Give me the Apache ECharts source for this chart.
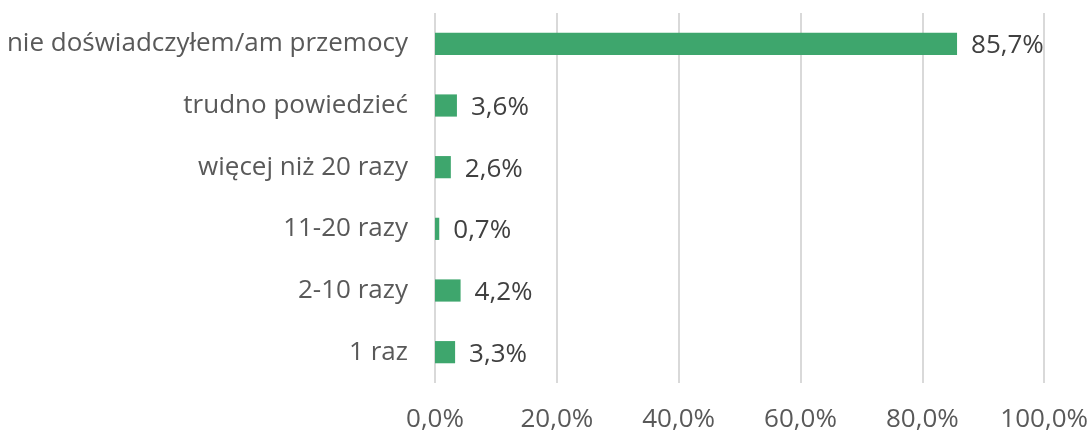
<!DOCTYPE html>
<html>
<head>
<meta charset="utf-8">
<script src="https://cdn.jsdelivr.net/npm/echarts@6/dist/echarts.min.js"></script>
<style>
html,body{margin:0;padding:0;background:#fff;}
#chart{width:1091px;height:433px;}
</style>
</head>
<body>
<div id="chart"></div>
<script>
var categories = ["1 raz", "2-10 razy", "11-20 razy", "więcej niż 20 razy", "trudno powiedzieć", "nie doświadczyłem/am przemocy"];
var values = [3.3, 4.2, 0.7, 2.6, 3.6, 85.7];
var tickValues = [0, 20, 40, 60, 80, 100];

var fmt = function (v) { return v.toFixed(1).replace('.', ',') + '%'; };
var chart = echarts.init(document.getElementById('chart'));
chart.setOption({
  animation: false,
  grid: { left: 435, right: 46, top: 13, bottom: 50, containLabel: false },
  xAxis: {
    type: 'value', min: 0, max: 100, interval: 20,
    axisLine: { show: false }, axisTick: { show: false },
    splitLine: { show: true, lineStyle: { color: '#d9d9d9', width: 2 } },
    axisLabel: { formatter: fmt, color: '#595959', fontSize: 26, fontFamily: 'Open Sans', margin: 24 }
  },
  yAxis: {
    type: 'category', data: categories,
    axisLine: { show: false }, axisTick: { show: false },
    axisLabel: { color: '#595959', fontSize: 26, fontFamily: 'Open Sans', margin: 27 }
  },
  series: [{
    type: 'bar', data: values, barWidth: '36%',
    itemStyle: { color: '#3ea66d' },
    label: { show: true, position: 'right', distance: 14, formatter: function (p) { return fmt(p.value); },
      color: '#404040', fontSize: 26, fontFamily: 'Open Sans', offset: [0, 2] }
  }]
});
</script>
</body>
</html>
